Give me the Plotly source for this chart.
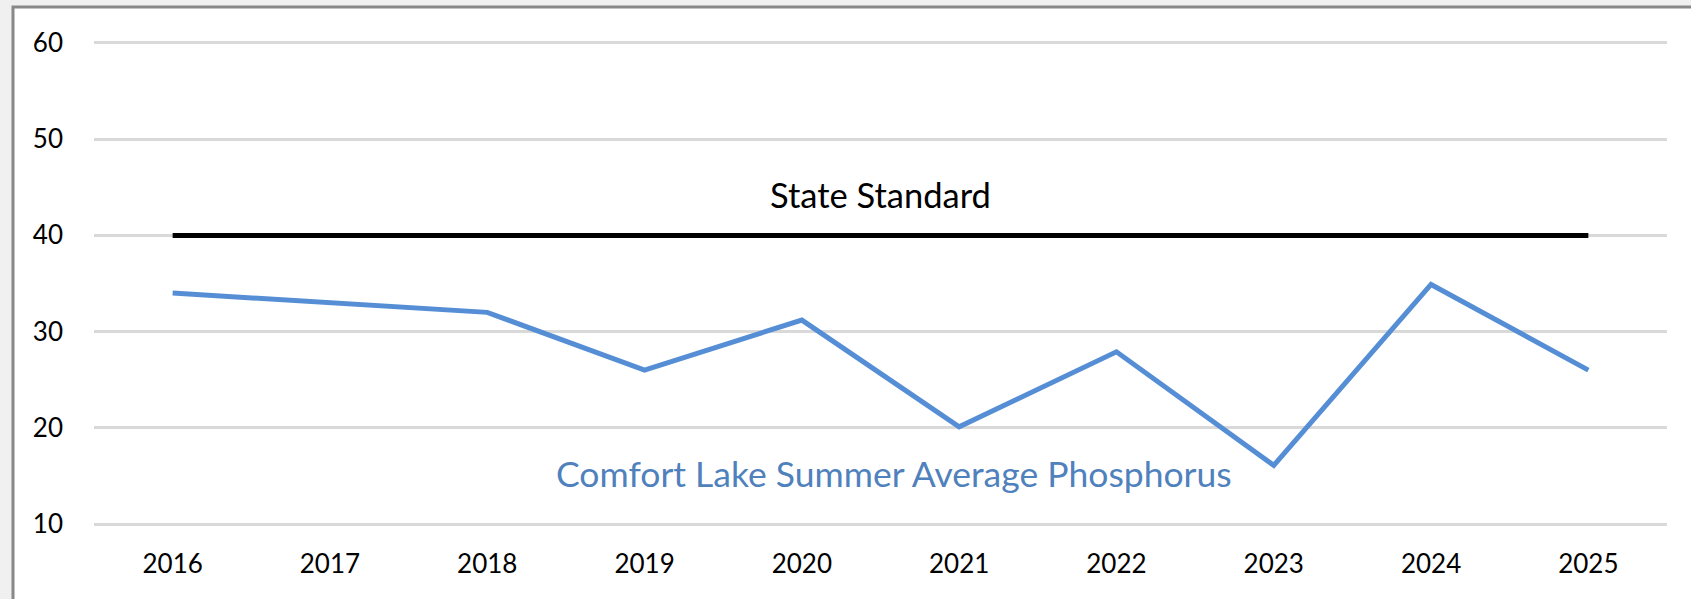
import plotly.graph_objects as go

years = ["2016", "2017", "2018", "2019", "2020", "2021", "2022", "2023", "2024", "2025"]
phosphorus = [34, None, 32, 26, 31.2, 20.1, 27.9, 16.1, 34.9, 26]
state_standard = [40] * len(years)
y_ticks = [10, 20, 30, 40, 50, 60]

FONT = "Lato"

fig = go.Figure()
fig.add_trace(go.Scatter(
    x=years, y=state_standard, mode="lines",
    line=dict(color="#000000", width=5), connectgaps=True, hoverinfo="skip",
    showlegend=False,
))
fig.add_trace(go.Scatter(
    x=years, y=phosphorus, mode="lines",
    line=dict(color="#558ED5", width=5), connectgaps=True,
    showlegend=False,
))

fig.add_annotation(x=4.5, y=44.2, xref="x", yref="y", text="State Standard",
                   showarrow=False, font=dict(family=FONT, size=34.5, color="#000000"))
fig.add_annotation(x=4.586, y=15.3, xref="x", yref="y",
                   text="Comfort Lake Summer Average Phosphorus",
                   showarrow=False, font=dict(family=FONT, size=35.5, color="#4F81BD"))

# outer chart border
fig.add_shape(type="rect", xref="paper", yref="paper",
              x0=-0.0515, x1=1.2, y0=-0.3, y1=1.0701,
              fillcolor="#FFFFFF", line=dict(color="#888888", width=3), layer="below")

fig.update_layout(
    width=1691, height=599,
    margin=dict(l=94, r=24, t=41, b=73),
    paper_bgcolor="#F0F0F0",
    plot_bgcolor="rgba(0,0,0,0)",
    font=dict(family=FONT, size=26, color="#000000"),
    xaxis=dict(type="category", range=[-0.5, 9.5], showgrid=False, zeroline=False,
               showline=False, ticks="", tickfont=dict(size=26), ticklabelstandoff=20),
    yaxis=dict(range=[9.8, 60.2], tickvals=y_ticks, showgrid=True, gridcolor="#D9D9D9",
               gridwidth=3, zeroline=False, showline=False, ticks="",
               tickfont=dict(size=26), ticklabelstandoff=30),
)

fig.write_html("out.html", config={"displayModeBar": False},
               post_script="document.body.style.margin='0';document.body.style.background='#F0F0F0';")
